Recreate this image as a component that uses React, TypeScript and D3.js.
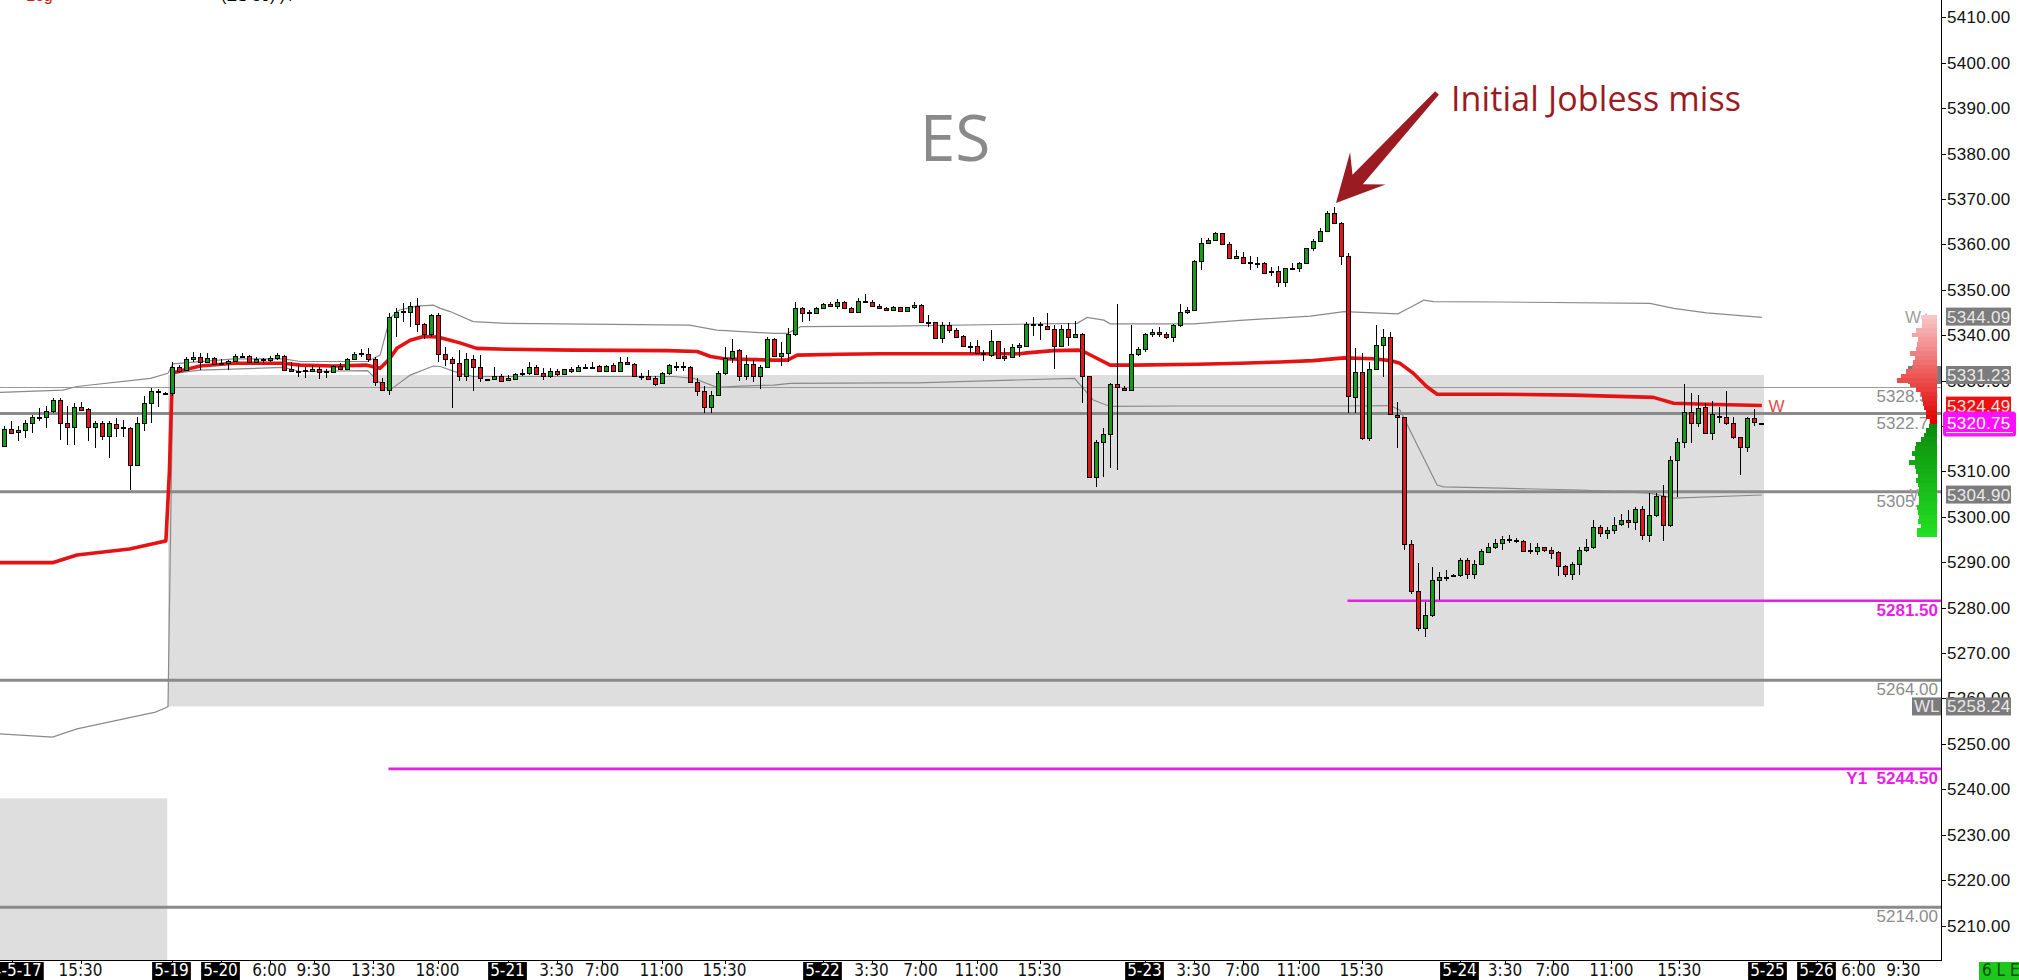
import React, { useEffect, useRef } from "react";
import * as d3 from "d3";

const WIDTH = 2019;
const HEIGHT = 980;

// [open, high, low, close] per 30-min bar
const candles: number[][] = [
  [5315.6, 5320.0, 5315.5, 5319.3], [5319.3, 5321.2, 5318.2, 5318.5], [5318.6, 5320.0, 5316.6, 5319.1], [5319.1, 5321.3, 5317.4, 5320.6],
  [5320.6, 5322.4, 5318.4, 5322.0], [5321.8, 5323.9, 5321.0, 5322.0], [5321.9, 5324.3, 5319.5, 5323.2], [5323.2, 5326.1, 5322.8, 5325.7],
  [5325.7, 5326.1, 5316.9, 5320.6], [5320.6, 5324.3, 5315.8, 5319.8], [5319.8, 5325.0, 5315.8, 5324.1], [5324.1, 5325.3, 5323.2, 5323.5],
  [5323.7, 5323.9, 5316.6, 5319.8], [5319.8, 5321.2, 5315.1, 5320.7], [5320.7, 5321.0, 5316.9, 5317.8], [5317.8, 5321.0, 5312.9, 5320.6],
  [5320.5, 5321.7, 5317.6, 5319.5], [5319.7, 5321.3, 5317.6, 5319.6], [5319.5, 5319.8, 5305.9, 5311.4], [5311.4, 5322.0, 5311.2, 5320.6],
  [5320.6, 5326.5, 5318.8, 5325.0], [5325.0, 5328.3, 5320.6, 5327.7], [5327.6, 5328.1, 5324.1, 5327.7], [5327.3, 5327.4, 5327.1, 5327.2],
  [5327.2, 5334.2, 5326.5, 5333.1], [5333.1, 5333.4, 5331.6, 5332.0], [5332.3, 5335.3, 5332.2, 5334.7], [5334.7, 5336.2, 5334.2, 5335.2],
  [5335.1, 5336.0, 5332.3, 5334.2], [5334.2, 5336.0, 5333.8, 5334.9], [5334.9, 5335.3, 5333.4, 5333.7], [5333.9, 5334.8, 5333.4, 5333.7],
  [5333.8, 5334.5, 5332.3, 5334.3], [5334.3, 5335.9, 5334.0, 5335.4], [5335.3, 5336.0, 5335.0, 5335.5], [5335.5, 5335.6, 5333.8, 5334.0],
  [5334.2, 5335.3, 5333.8, 5334.7], [5334.5, 5334.9, 5333.8, 5334.7], [5334.6, 5335.4, 5334.2, 5335.0], [5334.9, 5336.0, 5334.5, 5335.6],
  [5335.5, 5335.6, 5332.0, 5332.3], [5332.5, 5334.2, 5332.0, 5332.0], [5332.1, 5333.4, 5330.7, 5332.0], [5332.3, 5333.1, 5330.5, 5332.1],
  [5332.1, 5333.4, 5331.8, 5332.6], [5332.5, 5333.1, 5330.3, 5331.9], [5332.2, 5332.6, 5330.5, 5332.0], [5331.8, 5333.4, 5331.6, 5333.3],
  [5333.3, 5333.8, 5332.3, 5332.5], [5332.5, 5334.9, 5332.3, 5334.7], [5334.7, 5336.4, 5334.5, 5335.9], [5335.8, 5336.9, 5335.3, 5336.0],
  [5335.9, 5337.1, 5334.2, 5334.7], [5334.7, 5335.3, 5328.7, 5329.7], [5329.7, 5330.5, 5327.8, 5327.9], [5327.9, 5344.8, 5326.8, 5343.9],
  [5343.9, 5345.9, 5339.7, 5345.2], [5345.0, 5347.0, 5343.0, 5345.3], [5345.1, 5347.2, 5341.9, 5346.4], [5346.4, 5348.1, 5340.8, 5342.4],
  [5342.4, 5342.6, 5339.1, 5340.2], [5340.2, 5344.7, 5339.7, 5344.4], [5344.4, 5344.8, 5334.2, 5335.9], [5335.9, 5337.5, 5333.2, 5334.7],
  [5334.7, 5335.3, 5323.9, 5333.8], [5333.8, 5336.7, 5329.8, 5330.9], [5330.9, 5336.0, 5329.8, 5334.8], [5334.8, 5335.6, 5327.6, 5333.1],
  [5333.1, 5335.6, 5329.6, 5330.5], [5330.3, 5330.4, 5330.2, 5330.3], [5330.3, 5333.1, 5330.1, 5331.1], [5331.1, 5331.4, 5329.6, 5330.0],
  [5330.1, 5331.2, 5330.0, 5330.6], [5330.3, 5331.6, 5330.1, 5331.4], [5331.4, 5332.5, 5330.9, 5331.6], [5331.6, 5334.2, 5331.2, 5332.9],
  [5332.9, 5333.4, 5331.2, 5331.4], [5331.6, 5332.7, 5330.1, 5330.9], [5330.9, 5332.7, 5330.6, 5332.1], [5332.1, 5332.5, 5331.1, 5331.4],
  [5331.4, 5332.6, 5331.2, 5332.5], [5332.6, 5333.1, 5331.7, 5332.1], [5332.1, 5333.4, 5332.0, 5332.9], [5332.9, 5333.6, 5332.7, 5333.1],
  [5333.1, 5334.1, 5333.0, 5333.1], [5333.2, 5333.4, 5331.8, 5332.0], [5332.0, 5333.4, 5331.8, 5333.3], [5333.4, 5333.8, 5331.8, 5332.1],
  [5332.1, 5335.3, 5332.0, 5334.0], [5334.2, 5335.3, 5333.4, 5333.7], [5333.6, 5333.8, 5330.7, 5330.9], [5331.1, 5331.6, 5330.1, 5330.9],
  [5331.1, 5332.3, 5330.1, 5330.3], [5330.5, 5330.9, 5328.9, 5329.2], [5329.4, 5331.9, 5329.2, 5331.6], [5331.6, 5333.6, 5331.2, 5333.4],
  [5333.1, 5334.2, 5332.2, 5333.3], [5333.2, 5334.2, 5332.2, 5333.1], [5332.9, 5333.2, 5329.5, 5329.6], [5329.6, 5330.5, 5326.6, 5327.6],
  [5327.6, 5328.8, 5322.9, 5324.2], [5324.2, 5327.6, 5322.9, 5326.8], [5326.8, 5332.0, 5326.6, 5331.7], [5331.7, 5337.5, 5331.2, 5335.0],
  [5335.0, 5339.1, 5333.8, 5336.6], [5336.7, 5336.9, 5330.0, 5331.0], [5331.0, 5335.6, 5330.1, 5333.6], [5333.6, 5334.5, 5329.6, 5331.0],
  [5331.0, 5333.4, 5328.1, 5333.1], [5333.1, 5339.7, 5332.7, 5339.1], [5339.1, 5339.3, 5335.3, 5335.5], [5335.5, 5338.6, 5333.3, 5336.0],
  [5336.0, 5341.5, 5334.2, 5340.2], [5340.2, 5347.2, 5339.9, 5345.9], [5345.9, 5346.3, 5342.8, 5344.8], [5345.0, 5345.5, 5343.2, 5344.9],
  [5344.8, 5346.3, 5344.6, 5345.9], [5345.9, 5347.0, 5345.7, 5346.9], [5346.9, 5347.2, 5346.1, 5346.4], [5346.4, 5347.9, 5345.7, 5347.2],
  [5347.2, 5347.6, 5345.7, 5345.9], [5345.9, 5346.3, 5345.0, 5345.2], [5345.2, 5348.1, 5345.0, 5347.6], [5347.6, 5349.0, 5347.0, 5347.2],
  [5347.2, 5347.7, 5346.1, 5346.5], [5346.5, 5346.9, 5345.7, 5345.9], [5345.9, 5346.1, 5345.4, 5345.5], [5345.6, 5346.4, 5345.4, 5346.3],
  [5346.1, 5346.3, 5345.2, 5345.3], [5345.3, 5346.3, 5345.2, 5346.1], [5346.1, 5347.2, 5345.7, 5346.6], [5346.6, 5346.8, 5342.7, 5342.8],
  [5343.0, 5344.4, 5341.9, 5342.8], [5342.8, 5343.0, 5339.1, 5339.3], [5339.3, 5343.0, 5338.2, 5342.2], [5342.2, 5343.0, 5340.5, 5341.1],
  [5341.1, 5341.5, 5339.3, 5339.7], [5339.8, 5340.0, 5337.5, 5337.6], [5337.7, 5338.6, 5336.0, 5337.5], [5337.6, 5338.9, 5335.9, 5336.0],
  [5336.0, 5336.7, 5334.4, 5335.8], [5335.6, 5341.1, 5335.3, 5338.7], [5338.7, 5338.8, 5334.7, 5334.9], [5335.4, 5337.1, 5334.4, 5334.9],
  [5335.3, 5338.1, 5334.9, 5337.5], [5337.3, 5338.3, 5335.1, 5337.8], [5337.7, 5343.0, 5337.5, 5342.4], [5342.4, 5343.9, 5339.8, 5342.5],
  [5342.4, 5343.0, 5338.9, 5342.2], [5342.1, 5344.8, 5341.1, 5341.3], [5341.3, 5342.2, 5332.5, 5337.7], [5337.7, 5342.2, 5337.5, 5341.3],
  [5341.3, 5342.6, 5337.6, 5339.5], [5339.5, 5343.2, 5339.3, 5340.2], [5340.2, 5340.5, 5325.1, 5330.9], [5330.9, 5331.1, 5308.5, 5308.8],
  [5308.8, 5316.9, 5306.6, 5316.4], [5316.4, 5319.5, 5308.8, 5318.2], [5318.2, 5329.5, 5310.8, 5329.2], [5329.2, 5346.9, 5310.2, 5328.5],
  [5328.4, 5328.7, 5327.7, 5327.9], [5327.9, 5342.2, 5327.7, 5335.9], [5335.8, 5337.5, 5335.5, 5336.9], [5336.9, 5340.4, 5336.4, 5340.2],
  [5340.2, 5341.3, 5339.7, 5340.8], [5340.8, 5341.7, 5339.7, 5340.2], [5340.3, 5340.8, 5339.1, 5339.7], [5339.7, 5342.5, 5338.6, 5342.2],
  [5342.2, 5346.8, 5341.9, 5345.0], [5345.0, 5346.1, 5344.7, 5345.5], [5345.5, 5356.6, 5345.4, 5356.3], [5356.3, 5361.3, 5354.4, 5360.2],
  [5360.2, 5361.5, 5360.0, 5361.0], [5361.0, 5362.8, 5360.7, 5362.4], [5362.4, 5362.6, 5359.9, 5360.0], [5360.0, 5360.6, 5356.8, 5356.9],
  [5356.9, 5358.8, 5356.8, 5357.4], [5357.3, 5358.4, 5355.8, 5356.0], [5356.2, 5357.4, 5354.3, 5356.1], [5356.0, 5357.3, 5354.7, 5355.9],
  [5356.0, 5356.2, 5353.6, 5353.8], [5354.1, 5355.1, 5353.0, 5354.0], [5354.1, 5355.2, 5350.5, 5351.8], [5351.8, 5354.9, 5350.5, 5354.7],
  [5354.7, 5355.8, 5354.4, 5354.9], [5354.7, 5356.2, 5354.0, 5355.8], [5355.8, 5359.3, 5355.7, 5359.1], [5359.1, 5361.1, 5358.5, 5360.8],
  [5360.8, 5363.5, 5360.6, 5363.0], [5363.0, 5367.4, 5362.8, 5366.8], [5366.8, 5368.2, 5364.6, 5364.8], [5364.8, 5365.0, 5355.5, 5357.5],
  [5357.4, 5358.0, 5322.8, 5326.5], [5326.3, 5337.1, 5322.8, 5331.8], [5331.8, 5336.0, 5316.9, 5317.3], [5317.3, 5334.2, 5316.8, 5332.5],
  [5332.5, 5342.2, 5332.3, 5337.8], [5337.8, 5341.3, 5330.7, 5339.5], [5339.5, 5340.7, 5322.5, 5322.6], [5322.4, 5325.3, 5315.1, 5321.9],
  [5321.9, 5322.0, 5292.7, 5294.0], [5294.0, 5295.0, 5283.1, 5283.6], [5283.6, 5289.9, 5274.9, 5275.6], [5275.6, 5281.3, 5273.5, 5278.4],
  [5278.4, 5289.0, 5278.0, 5286.1], [5286.1, 5287.9, 5281.7, 5286.7], [5286.7, 5288.3, 5285.9, 5286.8], [5286.9, 5287.5, 5286.7, 5287.1],
  [5287.1, 5290.9, 5286.8, 5290.5], [5290.5, 5290.9, 5286.4, 5287.5], [5287.5, 5290.5, 5286.4, 5289.6], [5289.6, 5293.0, 5289.4, 5292.5],
  [5292.3, 5294.3, 5292.1, 5293.4], [5293.3, 5295.2, 5293.0, 5294.3], [5294.2, 5295.8, 5292.8, 5295.2], [5295.2, 5296.0, 5294.2, 5294.9],
  [5294.8, 5295.4, 5294.2, 5294.7], [5294.7, 5294.9, 5292.3, 5292.5], [5292.7, 5294.2, 5291.9, 5292.5], [5292.5, 5294.2, 5291.6, 5293.3],
  [5293.3, 5293.4, 5292.3, 5292.8], [5292.8, 5293.4, 5290.6, 5292.1], [5292.2, 5292.5, 5286.9, 5289.2], [5289.2, 5289.4, 5286.8, 5287.3],
  [5287.3, 5290.1, 5286.1, 5289.7], [5289.7, 5293.4, 5287.2, 5292.7], [5292.6, 5295.2, 5292.3, 5293.4], [5293.4, 5299.4, 5293.0, 5297.7],
  [5297.7, 5298.2, 5295.6, 5296.4], [5296.4, 5297.8, 5295.2, 5297.2], [5297.2, 5300.0, 5296.3, 5298.3], [5298.4, 5300.7, 5298.0, 5299.4],
  [5299.4, 5301.5, 5297.5, 5298.9], [5298.9, 5302.2, 5297.1, 5301.8], [5301.8, 5302.4, 5294.9, 5296.0], [5296.0, 5305.3, 5294.5, 5300.4],
  [5300.4, 5305.3, 5300.0, 5304.6], [5304.6, 5307.0, 5294.7, 5298.2], [5298.2, 5313.4, 5297.8, 5312.5], [5312.5, 5317.3, 5304.4, 5316.5],
  [5316.5, 5329.2, 5315.1, 5323.1], [5323.1, 5327.3, 5316.3, 5320.6], [5320.6, 5326.8, 5319.8, 5324.0], [5324.2, 5325.1, 5318.4, 5318.5],
  [5318.5, 5325.5, 5316.9, 5322.6], [5322.2, 5324.2, 5320.6, 5322.0], [5322.0, 5327.7, 5320.2, 5320.6], [5320.6, 5322.0, 5317.1, 5317.5],
  [5317.5, 5317.6, 5309.2, 5315.4], [5315.4, 5322.0, 5314.2, 5321.7], [5321.7, 5323.7, 5320.1, 5320.9], [5320.75, 5320.75, 5320.75, 5320.75],
];

// weekly VWAP [bar, price]
const vwap: [number, number][] = [
  [-0.5, 5289.9], [7, 5289.9], [10.5, 5291.6], [18, 5292.9], [21.7, 5294.2], [23.2, 5294.7], [23.7, 5310], [24.05, 5328.0],
  [24.3, 5331.7], [26.2, 5332.5], [28.1, 5333.2], [32.9, 5333.8], [40, 5333.8], [42.4, 5333.4], [47.1, 5333.2], [51.9, 5333.4],
  [53.8, 5332.7], [55, 5334.5], [56.2, 5337.1], [58.1, 5338.9], [60, 5339.7], [62, 5339.6], [63.8, 5338.9], [65.2, 5338.3],
  [67.6, 5337.1], [71.9, 5336.9], [81.4, 5336.7], [94.8, 5336.6], [99.1, 5336.4], [101, 5335.3], [103, 5334.8], [110, 5334.5],
  [112, 5334.5], [113.4, 5335.6], [119.5, 5335.8], [125.2, 5335.9], [145.2, 5335.9], [146.2, 5336.1], [150, 5336.6], [153.6, 5336.7],
  [154.3, 5336.4], [155.7, 5335.3], [158.1, 5333.4], [161.4, 5333.4], [170.5, 5333.6], [176.7, 5333.8], [182.4, 5334.1], [187.1, 5334.4],
  [191.5, 5335.0], [195.7, 5334.8], [198.1, 5334.4], [199.5, 5333.8], [201.4, 5331.6], [203.3, 5328.7], [204.8, 5327.0], [213.8, 5327.0],
  [224.3, 5326.8], [235.7, 5326.3], [238.6, 5325.0], [243.3, 5324.8], [251.2, 5324.5],
];

const upperBand: [number, number][] = [
  [-0.5, 5327.4], [8.5, 5327.9], [10.5, 5328.7], [21, 5330.5], [23.5, 5331.6], [24.2, 5333.7], [32.9, 5334.8], [40, 5334.8],
  [42.4, 5334.2], [52, 5334.2], [53.8, 5335.6], [55.2, 5343.7], [56.5, 5345.5], [59, 5346.4], [61.4, 5346.6], [62.4, 5345.9],
  [63.8, 5345.2], [67.1, 5343.0], [71.9, 5342.6], [98, 5342.2], [101.9, 5341.1], [110, 5340.4], [112, 5340.4], [113.9, 5341.9],
  [126.7, 5342.0], [153.4, 5342.6], [154.8, 5343.9], [157.2, 5343.3], [158.1, 5342.5], [170, 5342.5], [177.2, 5343.3], [186.7, 5344.2],
  [191.5, 5345.2], [199.2, 5344.7], [200.6, 5345.8], [202.9, 5347.7], [204.3, 5347.4], [213.8, 5347.3], [235.2, 5347.0], [238.6, 5345.9],
  [243.3, 5344.9], [251.2, 5343.9],
];

const lowerBand: [number, number][] = [
  [-0.5, 5252.2], [7, 5251.5], [10.5, 5253.3], [21.7, 5257.0], [23.1, 5257.9], [23.5, 5258.2], [24.2, 5331.6], [28.1, 5332.3],
  [40, 5332.9], [42.4, 5332.0], [52, 5332.2], [54.3, 5328.7], [55.2, 5327.9], [58.1, 5331.2], [61.4, 5333.2], [62.4, 5333.1],
  [65.2, 5331.6], [67.1, 5330.9], [81.4, 5330.9], [95.8, 5330.9], [98.6, 5330.5], [101.9, 5328.5], [105.2, 5328.8], [110, 5329.0],
  [112.4, 5329.4], [126.7, 5329.5], [130.5, 5329.5], [144, 5330.1], [153, 5330.5], [155.7, 5325.7], [158.1, 5324.3], [167.6, 5324.4],
  [191.9, 5324.4], [198.1, 5324.5], [199.5, 5323.5], [200.9, 5319.1], [204.8, 5307.0], [205.7, 5306.6], [213.8, 5306.3], [225.2, 5305.9],
  [235.2, 5305.2], [238.6, 5304.1], [251.2, 5304.8],
];

// volume profile (1-point bins)
const vpPrices = [
  5344, 5343, 5342, 5341, 5340, 5339, 5338, 5337, 5336, 5335, 5334, 5333, 5332, 5331, 5330, 5329, 5328, 5327, 5326, 5325,
  5324, 5323, 5322, 5321, 5320, 5319, 5318, 5317, 5316, 5315, 5314, 5313, 5312, 5311, 5310, 5309, 5308, 5307, 5306, 5305,
  5304, 5303, 5302, 5301, 5300, 5299, 5298, 5297, 5296,
];
const vpVolumes = [
  14, 13, 13, 18, 21, 16, 17, 18, 23, 19, 20, 21, 26, 31, 34, 23, 18, 14, 13, 12,
  11, 9, 9, 6, 7, 9, 11, 14, 18, 19, 21, 19, 24, 19, 18, 16, 18, 16, 15, 16,
  15, 15, 17, 16, 15, 16, 14, 17, 17,
];

const yTickValues = [5210, 5220, 5230, 5240, 5250, 5260, 5270, 5280, 5290, 5300, 5310, 5320, 5330, 5340, 5350, 5360, 5370, 5380, 5390, 5400, 5410];

const xLabelText = [
  "24-5-17", "15:30", "5-19", "5-20", "6:00", "9:30", "13:30", "18:00", "5-21", "3:30", "7:00", "11:00", "15:30",
  "5-22", "3:30", "7:00", "11:00", "15:30", "5-23", "3:30", "7:00", "11:00", "15:30", "5-24", "3:30", "7:00", "11:00", "15:30",
  "5-25", "5-26", "6:00", "9:30",
];
const xLabelBars = [
  1.2, 11, 24, 31, 38, 44.3, 52.8, 62, 72, 79, 85.5, 94, 103,
  117, 124, 131, 139, 148, 163, 170, 177, 185, 194, 208, 214.5, 221.3, 229.7, 239.4,
  252, 259, 265, 271.4,
];

const weekHigh = 5331.23;
const weekLow = 5258.24;
const weekBoxBars = [23.5, 251.5];
const prevWeekHigh = 5238.0;
const prevBoxBars = [-0.6, 23.4];

const thinLevels = [5328.5];
const thinLevelLabels = ["5328.50"];
const thickLevels = [5322.75, 5305.5, 5264.0, 5214.0];
const thickLevelLabels = ["5322.75", "5305.50", "5264.00", "5214.00"];
const magentaLevels = [5281.5, 5244.5];
const magentaStartBars = [192, 55];
const magentaLabels = ["5281.50", "Y1  5244.50"];

const lastPrice = 5320.75;
const vwapLast = 5324.49;
const upperLast = 5344.09;
const lowerLast = 5304.9;

export default function App() {
  const ref = useRef<SVGSVGElement>(null);

  useEffect(() => {
    const svg = d3.select(ref.current as SVGSVGElement);
    svg.selectAll("*").remove();

    const PR = 1941;
    const PB = 960;
    const x = d3.scaleLinear().domain([-0.5, (PR - 3.5) / 7]).range([0, PR]);
    const y = d3.scaleLinear().domain([5410, 5210]).range([17.3, 925.5]);
    const axisFont = "'Liberation Sans', Arial, sans-serif";
    const narrowFont = "'Liberation Sans Narrow', 'DejaVu Sans Condensed', 'Arial Narrow', sans-serif";

    svg.append("rect").attr("width", WIDTH).attr("height", HEIGHT).attr("fill", "#ffffff");
    const defs = svg.append("defs");
    defs.append("clipPath").attr("id", "pc").append("rect").attr("x", 0).attr("y", 0).attr("width", PR).attr("height", PB);

    // partial header text cut at the top edge
    svg.append("text").attr("x", 26).attr("y", 1).attr("font-family", axisFont).attr("font-size", 16).attr("fill", "#d21c1c").text("Log");
    svg.append("text").attr("x", 221).attr("y", 1).attr("font-family", axisFont).attr("font-size", 16).attr("fill", "#000").text("(ES 30)       )  /");

    const plot = svg.append("g").attr("clip-path", "url(#pc)");

    // range boxes
    plot.append("rect")
      .attr("x", x(weekBoxBars[0])).attr("width", x(weekBoxBars[1]) - x(weekBoxBars[0]))
      .attr("y", y(weekHigh)).attr("height", y(weekLow) - y(weekHigh)).attr("fill", "#dedede");
    plot.append("rect")
      .attr("x", x(prevBoxBars[0])).attr("width", x(prevBoxBars[1]) - x(prevBoxBars[0]))
      .attr("y", y(prevWeekHigh)).attr("height", PB - y(prevWeekHigh)).attr("fill", "#dedede");

    // level lines
    thinLevels.forEach((p) => {
      plot.append("line").attr("x1", 0).attr("x2", PR).attr("y1", Math.round(y(p)) + 0.5).attr("y2", Math.round(y(p)) + 0.5)
        .attr("stroke", "#9a9a9a").attr("stroke-width", 1);
    });
    thickLevels.forEach((p) => {
      plot.append("line").attr("x1", 0).attr("x2", PR).attr("y1", y(p)).attr("y2", y(p))
        .attr("stroke", "#8a8a8a").attr("stroke-width", 3);
    });
    magentaLevels.forEach((p, k) => {
      plot.append("line").attr("x1", x(magentaStartBars[k])).attr("x2", PR).attr("y1", y(p)).attr("y2", y(p))
        .attr("stroke", "#e61ee6").attr("stroke-width", 2.6);
    });

    // bands + vwap
    const line = d3.line<[number, number]>().x((d) => x(d[0])).y((d) => y(d[1]));
    [upperBand, lowerBand].forEach((b) => {
      plot.append("path").attr("d", line(b) as string).attr("fill", "none").attr("stroke", "#8a8a8a").attr("stroke-width", 1.2);
    });
    plot.append("path").attr("d", line(vwap) as string).attr("fill", "none").attr("stroke", "#e41212")
      .attr("stroke-width", 3.6).attr("stroke-linejoin", "round");

    // candles
    const cg = plot.append("g").attr("shape-rendering", "crispEdges");
    candles.forEach((c, i) => {
      const [o, h, l, cl] = c;
      const cx = Math.round(x(i)) + 0.5;
      cg.append("line").attr("x1", cx).attr("x2", cx).attr("y1", y(h)).attr("y2", y(l)).attr("stroke", "#000").attr("stroke-width", 1);
      const top = Math.round(y(Math.max(o, cl))) + 0.5;
      const bot = Math.round(y(Math.min(o, cl))) + 0.5;
      const hh = Math.max(1, bot - top);
      cg.append("rect").attr("x", cx - 2).attr("y", top).attr("width", 4).attr("height", hh)
        .attr("fill", cl >= o ? "#169c16" : "#e3161c").attr("stroke", "#000").attr("stroke-width", 1);
    });

    // labels left of axis
    const lblG = plot.append("g").attr("font-family", axisFont).attr("font-size", 17).attr("text-anchor", "end");
    thinLevels.forEach((p, k) => {
      lblG.append("text").attr("x", 1938).attr("y", y(p) + 15).attr("fill", "#8c8c8c").text(thinLevelLabels[k]);
    });
    thickLevels.forEach((p, k) => {
      lblG.append("text").attr("x", 1938).attr("y", y(p) + 15).attr("fill", "#8c8c8c").text(thickLevelLabels[k]);
    });
    magentaLevels.forEach((p, k) => {
      lblG.append("text").attr("x", 1938).attr("y", y(p) + 15).attr("fill", "#e61ee6").attr("font-weight", "bold")
        .attr("xml:space", "preserve").style("white-space", "pre").text(magentaLabels[k]);
    });
    // W labels
    lblG.append("text").attr("x", 1931).attr("y", y(upperLast) + 6).attr("fill", "#a0a0a0").text("W+");
    lblG.append("text").attr("x", 1931).attr("y", y(lowerLast) + 6).attr("fill", "#a0a0a0").text("W-");
    plot.append("rect").attr("x", 1908).attr("y", y(weekHigh) - 9).attr("width", 33).attr("height", 18).attr("fill", "#7c7c7c");
    plot.append("text").attr("x", 1910).attr("y", y(weekHigh) + 6).attr("font-family", axisFont).attr("font-size", 17)
      .attr("fill", "#b8b8b8").text("WH");
    plot.append("rect").attr("x", 1912).attr("y", y(weekLow) - 9).attr("width", 29).attr("height", 18).attr("fill", "#7c7c7c");
    plot.append("text").attr("x", 1914).attr("y", y(weekLow) + 6).attr("font-family", axisFont).attr("font-size", 17)
      .attr("fill", "#e6e6e6").text("WL");
    plot.append("text").attr("x", x(candles.length - 1) + 8).attr("y", y(vwapLast) + 6).attr("font-family", axisFont)
      .attr("font-size", 17).attr("fill", "#e24a4a").text("W");

    // volume profile
    const vpW = d3.scaleLinear().domain([0, d3.max(vpVolumes) as number]).range([0, 40]);
    const redC = d3.interpolateRgb("#e20000", "#f8c6c6");
    const greenC = d3.interpolateRgb("#0c8c0c", "#22e022");
    const vg = plot.append("g").attr("shape-rendering", "crispEdges");
    vpPrices.forEach((p, k) => {
      const w = vpW(vpVolumes[k]);
      const col = p > lastPrice
        ? redC((p - 5321) / (5344 - 5321))
        : greenC((5320 - p) / (5320 - 5296));
      vg.append("rect").attr("x", 1937 - w).attr("y", y(p + 0.5)).attr("width", w)
        .attr("height", y(p - 0.5) - y(p + 0.5)).attr("fill", col);
    });

    // axes
    svg.append("line").attr("x1", PR + 0.5).attr("x2", PR + 0.5).attr("y1", 0).attr("y2", PB + 1).attr("stroke", "#000");
    svg.append("line").attr("x1", 0).attr("x2", PR + 1).attr("y1", PB + 0.5).attr("y2", PB + 0.5).attr("stroke", "#000");
    const yAx = svg.append("g").attr("font-family", axisFont).attr("font-size", 17).attr("letter-spacing", 0.3);
    yTickValues.forEach((v) => {
      yAx.append("line").attr("x1", PR).attr("x2", PR + 5).attr("y1", Math.round(y(v)) + 0.5).attr("y2", Math.round(y(v)) + 0.5).attr("stroke", "#000");
      yAx.append("text").attr("x", PR + 6).attr("y", y(v) + 6).attr("fill", "#111").text(v.toFixed(2));
    });

    // price boxes on axis
    const boxes: { v: number; bg: string; fg: string }[] = [
      { v: upperLast, bg: "#7c7c7c", fg: "#e8e8e8" },
      { v: weekHigh, bg: "#7c7c7c", fg: "#e8e8e8" },
      { v: vwapLast, bg: "#f01010", fg: "#ffe4e4" },
      { v: lowerLast, bg: "#7c7c7c", fg: "#e8e8e8" },
      { v: weekLow, bg: "#7c7c7c", fg: "#e8e8e8" },
    ];
    boxes.forEach((b) => {
      svg.append("rect").attr("x", PR + 5).attr("y", y(b.v) - 9).attr("width", 65).attr("height", 18).attr("fill", b.bg);
      svg.append("text").attr("x", PR + 6).attr("y", y(b.v) + 6).attr("font-family", axisFont).attr("font-size", 17)
        .attr("letter-spacing", 0.3).attr("fill", b.fg).text(b.v.toFixed(2));
    });
    svg.append("rect").attr("x", PR + 2).attr("y", y(lastPrice) - 11).attr("width", 73).attr("height", 25).attr("rx", 3).attr("fill", "#ff10ff");
    svg.append("text").attr("x", PR + 6).attr("y", y(lastPrice) + 6).attr("font-family", axisFont).attr("font-size", 17)
      .attr("letter-spacing", 0.3).attr("fill", "#ffffff").text(lastPrice.toFixed(2));
    svg.append("line").attr("x1", PR + 5).attr("x2", PR + 72).attr("y1", y(lastPrice) + 10).attr("y2", y(lastPrice) + 10)
      .attr("stroke", "#ffffff").attr("stroke-width", 1);

    // x axis labels
    const xg = svg.append("g").attr("font-family", narrowFont).attr("font-size", 17);
    const xClip = defs.append("clipPath").attr("id", "xc");
    xClip.append("rect").attr("x", 0).attr("y", PB).attr("width", PR).attr("height", HEIGHT - PB);
    const xgc = xg.append("g").attr("clip-path", "url(#xc)");
    xLabelText.forEach((t, k) => {
      const cx = x(xLabelBars[k]);
      const isDate = t.includes("-");
      xgc.append("line").attr("x1", Math.round(cx) + 0.5).attr("x2", Math.round(cx) + 0.5).attr("y1", PB).attr("y2", PB + 4).attr("stroke", "#000");
      const txt = xgc.append("text").attr("x", cx).attr("y", 976).attr("text-anchor", "middle")
        .attr("fill", isDate ? "#ffffff" : "#111").text(t);
      if (isDate) {
        const w = (txt.node() as SVGTextElement).getComputedTextLength();
        xgc.insert("rect", () => txt.node() as SVGTextElement).attr("x", cx - w / 2 - 2).attr("y", 962).attr("width", w + 4).attr("height", 18).attr("fill", "#000");
      }
    });
    svg.append("rect").attr("x", 1979).attr("y", 962).attr("width", 40).attr("height", 18).attr("fill", "#1cc81c");
    svg.append("text").attr("x", 1982).attr("y", 976).attr("font-family", narrowFont).attr("font-size", 17).attr("fill", "#0b4d0b").text("6 L E");

    // title
    svg.append("text").attr("x", 955).attr("y", 161).attr("text-anchor", "middle").attr("font-family", "'Open Sans', 'Noto Sans', sans-serif")
      .attr("font-size", 64).attr("fill", "#8a8a8a").text("ES");

    // annotation
    const annColor = "#9b1b22";
    svg.append("text").attr("x", 1451).attr("y", 111).attr("font-family", "'Open Sans', 'Noto Sans', sans-serif")
      .attr("font-size", 34).attr("fill", annColor).attr("textLength", 290).text("Initial Jobless miss");
    const tail: [number, number] = [1437, 93];
    const tip: [number, number] = [1336, 203];
    const dx = tip[0] - tail[0], dy = tip[1] - tail[1];
    const len = Math.hypot(dx, dy);
    const ux = dx / len, uy = dy / len;
    const px = -uy, py = ux;
    const pt = (along: number, side: number): [number, number] => [tip[0] - ux * along + px * side, tip[1] - uy * along + py * side];
    const arrow = [
      [tail[0] + px * 2.5, tail[1] + py * 2.5],
      pt(32, 7),
      pt(47, 24),
      tip,
      pt(47, -24),
      pt(32, -7),
      [tail[0] - px * 2.5, tail[1] - py * 2.5],
    ];
    svg.append("path").attr("d", "M" + arrow.map((p) => p.join(",")).join("L") + "Z").attr("fill", annColor);
  }, []);

  return (
    <div style={{ position: "fixed", left: 0, top: 0, width: WIDTH, height: HEIGHT, background: "#fff" }}>
      <svg ref={ref} width={WIDTH} height={HEIGHT} style={{ display: "block" }} />
    </div>
  );
}
